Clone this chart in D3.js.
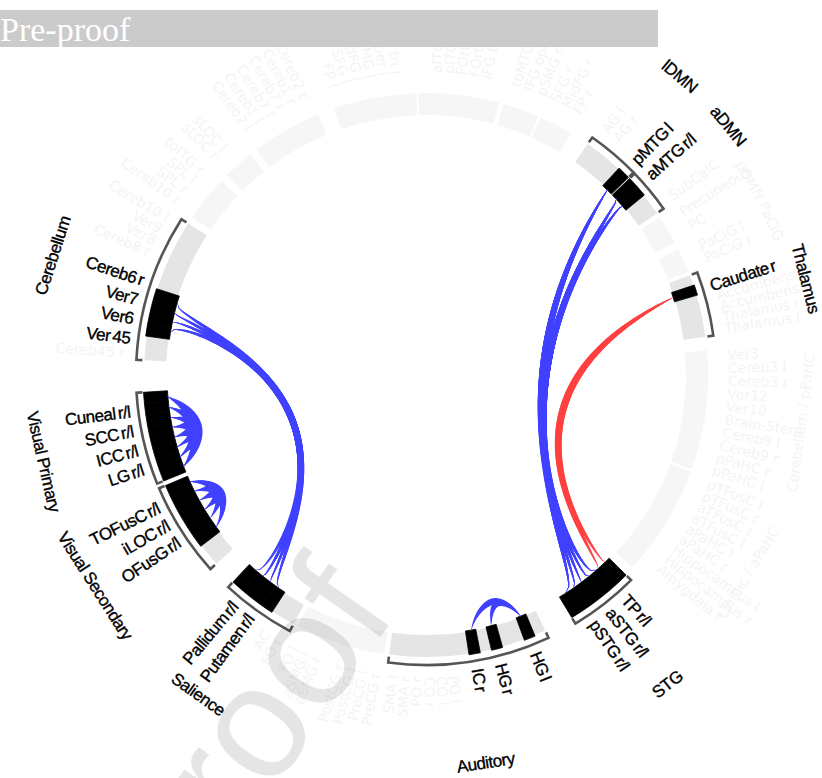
<!DOCTYPE html>
<html>
<head>
<meta charset="utf-8">
<script src="https://cdn.jsdelivr.net/npm/d3@7"></script>
<style>
  body { margin: 0; background: #fff; }
  svg { display: block; }
</style>
</head>
<body>
<svg id="chart" width="822" height="778"></svg>
<script>
// ---- Ring layout: networks clockwise from 12 o'clock (degrees) ----
const networkNames = ["", "", "", "lDMN", "aDMN", "pDMN", "PaCiG", "Thalamus",
  "Cerebellum / pPaHC", "Limbic / aPaHC", "STG", "Auditory", "", "Salience",
  "Visual Secondary", "Visual Primary", "Cerebellum", "", "", "", ""];
const networkStart = [-1.5, 16, 24, 35, 46, 56, 63.5, 69.3, 85, 110, 135, 155, 188.5, 208, 228, 248, 273, 304, 315, 323, 341];
const networkEnd   = [15, 23.5, 31, 45.7, 55, 62, 68.5, 82.2, 109.5, 133, 149, 187.5, 207, 223, 247, 266.5, 302.5, 313.5, 321.5, 337.5, 358];

// ROIs in each network, clockwise ("" = unnamed slot)
const networkNodes = [
  ["", "aITG l", "pITG l", "FOrb l", "FOrb r", "IFG tri r", ""],
  ["toMTG r", "IFG oper r", "pSMG r"],
  ["SFG r", "MidFG r", "FP r"],
  ["AG l", "AG r", "", "pMTG l"],
  ["aMTG r", "aMTG l", "", "SubCalC"],
  ["Precuneous", "PC"],
  ["PaCiG l", "PaCiG r"],
  ["", "Caudate r", "Accumbens l", "Accumbens r", "Thalamus r", "Thalamus l"],
  ["Ver3", "Cereb3 l", "Cereb3 r", "Ver12", "Ver10", "Brain-Stem", "Cereb9 l", "Cereb9 r", "pPaHC r", "pPaHC l"],
  ["pTFusC l", "pTFusC r", "aTFusC r", "aTFusC l", "aPaHC l", "aPaHC r", "Hippocampus l", "Hippocampus r", "Amygdala r", ""],
  ["TP r", "TP l", "aSTG r", "aSTG l", "pSTG r", "pSTG l"],
  ["", "HG l", "", "", "HG r", "", "IC r", "", "PO l", "CO l", "CO r", "PO r", "SMA r", "SMA l"],
  ["PreCG r", "PreCG l", "PostCG l", "PostCG r", "", "aSMG r", "aSMG l", "FO l"],
  ["FO r", "AC", "Putamen r", "Putamen l", "Pallidum r", "Pallidum l"],
  ["", "", "OFusG r", "OFusG l", "iLOC r", "iLOC l", "TOFusC r", "TOFusC l"],
  ["LG r", "LG l", "ICC r", "ICC l", "SCC r", "SCC l", "Cuneal r", "Cuneal l"],
  ["Cereb45 r", "", "Ver 45", "Ver6", "Ver7", "Cereb6 r", "", "", "Cereb8 r", "Ver8", "Ver9", "Cereb10 l"],
  ["Cereb10 r", "SPL r", "SPL l", "toITG r"],
  ["sLOC r", "sLOC l", ""],
  ["Cereb2 l", "Cereb1 l", "Cereb7 l", "Cereb7 r", "Cereb1 r", "Cereb2 r"],
  ["FP l", "SFG l", "MidFG l", "pSMG l", "IFG oper l", "IFG tri l", ""]
];

// ---- Connections (sign: +1 positive / red, -1 negative / blue) ----
const connFrom = [
  "Ver 45", "Ver 45", "Ver6", "Ver6", "Ver7", "Ver7", "Cereb6 r", "Cereb6 r",
  "pMTG l", "pMTG l", "pMTG l", "pMTG l", "pMTG l",
  "aMTG r", "aMTG r", "aMTG r", "aMTG r", "aMTG r",
  "aMTG l", "aMTG l", "aMTG l", "aMTG l", "aMTG l",
  "Caudate r", "Caudate r",
  "Cuneal r", "Cuneal r", "Cuneal l", "SCC r", "SCC l", "ICC r", "ICC l", "LG r", "Cuneal r", "Cuneal l",
  "TOFusC l", "TOFusC l", "TOFusC r", "iLOC r", "iLOC l", "TOFusC l",
  "HG l", "HG l"
];
const connTo = [
  "Putamen r", "Putamen l", "Putamen l", "Pallidum r", "Pallidum r", "Putamen r", "Pallidum l", "Pallidum r",
  "TP l", "aSTG r", "aSTG l", "pSTG r", "pSTG l",
  "TP l", "aSTG r", "aSTG l", "pSTG r", "pSTG l",
  "TP l", "aSTG r", "aSTG l", "pSTG r", "pSTG l",
  "TP r", "TP l",
  "Cuneal l", "SCC l", "SCC r", "ICC l", "ICC r", "LG l", "LG r", "LG l", "LG l", "LG r",
  "TOFusC r", "iLOC r", "iLOC l", "OFusG l", "OFusG r", "OFusG r",
  "IC r", "HG r"
];
const connSign = [
  -1, -1, -1, -1, -1, -1, -1, -1,
  -1, -1, -1, -1, -1,
  -1, -1, -1, -1, -1,
  -1, -1, -1, -1, -1,
  1, 1,
  -1, -1, -1, -1, -1, -1, -1, -1, -1, -1,
  -1, -1, -1, -1, -1, -1,
  -1, -1
];

// ---- Geometry ----
const cx = 426, cy = 375;
const rIn = 260, rOut = 282, rBracket = 290, rTick = 284, rLabel = 298, rGroup = 392;
const deg = d3.scaleLinear().domain([0, 360]).range([0, 2 * Math.PI]);
const polar = (a, r) => { const t = deg(a); return [cx + r * Math.sin(t), cy - r * Math.cos(t)]; };
const norm = a => ((a % 360) + 360) % 360;

const svg = d3.select("#chart");
const ring = svg.append("g").attr("transform", `translate(${cx},${cy})`);

// nodes
const nodes = [], byName = new Map();
networkNodes.forEach((list, i) => {
  const step = (networkEnd[i] - networkStart[i]) / list.length;
  list.forEach((name, j) => {
    const a0 = networkStart[i] + j * step, a1 = a0 + step;
    const n = { name, net: i, slot: j, a0, a1, angle: (a0 + a1) / 2 };
    nodes.push(n);
    if (name) byName.set(name, n);
  });
});
const conns = connFrom.map((f, i) => ({ s: byName.get(f), t: byName.get(connTo[i]), sign: connSign[i] }));
const activeNames = new Set(conns.flatMap(c => [c.s.name, c.t.name]));
const activeNets = new Set(conns.flatMap(c => [c.s.net, c.t.net]));

// ---- faint labels of unused ROIs and networks ----
const labelFont = "'Liberation Sans', Arial, sans-serif";
const ghostColor = "#f4f4f4";
function nodeLabelTransform(a, r) {
  const [x, y] = polar(a, r);
  const right = norm(a) < 180;
  return `translate(${x},${y}) rotate(${right ? a - 90 : a + 90})`;
}
function groupTransform(a, r) {
  const [x, y] = polar(a, r);
  const m = norm(a);
  const rot = (m > 90 && m < 270) ? m - 180 : m;
  return `translate(${x},${y}) rotate(${rot})`;
}
svg.append("g").selectAll("text")
  .data(nodes.filter(n => n.name && !activeNames.has(n.name)))
  .join("text")
  .attr("transform", n => nodeLabelTransform(n.angle, rLabel + 4))
  .attr("text-anchor", n => norm(n.angle) < 180 ? "start" : "end")
  .attr("dy", "0.35em")
  .attr("font-family", "'DejaVu Sans', sans-serif")
  .attr("font-size", 14)
  .attr("fill", ghostColor)
  .text(n => n.name);
svg.append("g").selectAll("text")
  .data(networkNames.map((name, i) => ({ name, i })).filter(d => d.name && !activeNets.has(d.i)))
  .join("text")
  .attr("transform", d => groupTransform((networkStart[d.i] + networkEnd[d.i]) / 2, 378))
  .attr("text-anchor", "middle")
  .attr("dy", "0.35em")
  .attr("font-family", "'DejaVu Sans', sans-serif")
  .attr("font-size", 14)
  .attr("fill", ghostColor)
  .text(d => d.name);

// ---- ring segments ----
const arc = d3.arc();
ring.append("g").selectAll("path")
  .data(networkNames.map((_, i) => i))
  .join("path")
  .attr("d", i => arc({ innerRadius: rIn, outerRadius: rOut, startAngle: deg(networkStart[i]), endAngle: deg(networkEnd[i]) }))
  .attr("fill", i => activeNets.has(i) ? "#e5e5e5" : "#f6f6f6");

// active ROIs
ring.append("g").selectAll("path")
  .data(nodes.filter(n => activeNames.has(n.name)))
  .join("path")
  .attr("d", n => arc({ innerRadius: rIn - 1, outerRadius: rOut + 1, startAngle: deg(n.a0), endAngle: deg(n.a1) }))
  .attr("fill", "#000")
  .attr("stroke", "#000")
  .attr("stroke-width", 0.8);

// brackets around networks in use
function bracket(i) {
  const p = d3.path();
  const a0 = deg(networkStart[i]) - Math.PI / 2, a1 = deg(networkEnd[i]) - Math.PI / 2;
  p.moveTo(rTick * Math.cos(a0), rTick * Math.sin(a0));
  p.lineTo(rBracket * Math.cos(a0), rBracket * Math.sin(a0));
  p.arc(0, 0, rBracket, a0, a1);
  p.lineTo(rTick * Math.cos(a1), rTick * Math.sin(a1));
  return p.toString();
}
ring.append("g").selectAll("path")
  .data([...activeNets])
  .join("path")
  .attr("d", bracket)
  .attr("fill", "none")
  .attr("stroke", "#555")
  .attr("stroke-width", 2.6);

// ---- ROI labels (r/l pairs merged) ----
const roiLabels = [];
[...activeNets].forEach(i => {
  const act = nodes.filter(n => n.net === i && activeNames.has(n.name)).sort((a, b) => a.slot - b.slot);
  const items = [];
  for (let k = 0; k < act.length; k++) {
    const n = act[k], nx = act[k + 1];
    const base = n.name.replace(/ [rl]$/, "");
    if (nx && base !== n.name && nx.name.replace(/ [rl]$/, "") === base && nx.slot === n.slot + 1) {
      items.push({ text: base + " r/l", angle: (n.angle + nx.angle) / 2 });
      k++;
    } else items.push({ text: n.name, angle: n.angle });
  }
  const tight = items.length > 1 && d3.pairs(items).every(([a, b]) => b.angle - a.angle <= 5.2);
  if (tight) {
    const mid = d3.mean(items, d => d.angle), gap = 3.8;
    items.forEach((d, k) => d.angle = mid + (k - (items.length - 1) / 2) * gap);
  }
  roiLabels.push(...items);
});
svg.append("g").selectAll("text")
  .data(roiLabels)
  .join("text")
  .attr("transform", d => nodeLabelTransform(d.angle, rLabel))
  .attr("text-anchor", d => norm(d.angle) < 180 ? "start" : "end")
  .attr("dy", "0.35em")
  .attr("font-family", labelFont)
  .attr("font-size", 17)
  .attr("letter-spacing", "-0.5px")
  .attr("word-spacing", "-2px")
  .attr("fill", "#000")
  .attr("stroke", "#000")
  .attr("stroke-width", 0.35)
  .text(d => d.text);

// network labels
svg.append("g").selectAll("text")
  .data([...activeNets])
  .join("text")
  .attr("transform", i => groupTransform((networkStart[i] + networkEnd[i]) / 2, rGroup))
  .attr("text-anchor", "middle")
  .attr("dy", "0.35em")
  .attr("font-family", labelFont)
  .attr("font-size", 17)
  .attr("letter-spacing", "-0.5px")
  .attr("fill", "#000")
  .attr("stroke", "#000")
  .attr("stroke-width", 0.35)
  .text(i => networkNames[i]);

// ---- bundled, tapered connections ----
const bundles = d3.groups(conns, c => `${c.s.net}|${c.t.net}|${c.sign}`).map(([key, list]) => {
  const within = list[0].s.net === list[0].t.net;
  const hubA = d3.mean(list, c => c.s.angle), hubB = d3.mean(list, c => c.t.angle);
  const hub = d3.mean(list.flatMap(c => [c.s.angle, c.t.angle]));
  return { list, within, hubA, hubB, hub };
});
const quad = (P0, C, P2, t) => [
  (1 - t) * (1 - t) * P0[0] + 2 * (1 - t) * t * C[0] + t * t * P2[0],
  (1 - t) * (1 - t) * P0[1] + 2 * (1 - t) * t * C[1] + t * t * P2[1]
];
const cubic = (P0, C1, C2, P3, t) => {
  const u = 1 - t;
  return [0, 1].map(k => u * u * u * P0[k] + 3 * u * u * t * C1[k] + 3 * u * t * t * C2[k] + t * t * t * P3[k]);
};
const bundleCtrl = 63, N = 100;
function strandCentre(c, b) {
  const P0 = polar(c.s.angle, rIn), P2 = polar(c.t.angle, rIn);
  const pts = [];
  if (b.within) {
    // loop that leaves each ROI radially, deeper for wider spans, drawn toward the hub
    const span = Math.abs(c.t.angle - c.s.angle);
    const depth = 9 + 1.15 * span;
    const C1 = polar(c.s.angle, rIn - 1.33 * depth), C2 = polar(c.t.angle, rIn - 1.33 * depth);
    const Hb = polar(b.hub, rIn - 24);
    for (let i = 0; i <= N; i++) {
      const t = i / N, k = 0.5 * Math.pow(Math.sin(Math.PI * t), 0.8);
      const o = cubic(P0, C1, C2, P2, t);
      pts.push([o[0] + (Hb[0] - o[0]) * k, o[1] + (Hb[1] - o[1]) * k]);
    }
  } else {
    const A = b.hubA, B = b.hubB;
    let bis = (A + B) / 2;
    if (Math.abs(A - B) > 180) bis += 180;
    const C = polar(bis, bundleCtrl);
    const S0 = polar(A, rIn), S2 = polar(B, rIn);
    for (let i = 0; i <= N; i++) {
      const t = i / N, k = 0.97 * Math.pow(Math.sin(Math.PI * t), 0.3);
      const o = quad(P0, C, P2, t), s = quad(S0, C, S2, t);
      pts.push([o[0] + (s[0] - o[0]) * k, o[1] + (s[1] - o[1]) * k]);
    }
  }
  return pts;
}
function strandOutline(pts, wmax, taper) {
  return pts.map((p, i) => {
    const a = pts[Math.max(0, i - 1)], b = pts[Math.min(pts.length - 1, i + 1)];
    const tx = b[0] - a[0], ty = b[1] - a[1];
    const len = Math.hypot(tx, ty) || 1;
    const nx = -ty / len, ny = tx / len;
    const w = wmax * Math.pow(Math.sin(Math.PI * i / (pts.length - 1)), taper) / 2;
    return { x0: p[0] + nx * w, y0: p[1] + ny * w, x1: p[0] - nx * w, y1: p[1] - ny * w };
  });
}
const ribbon = d3.area().x0(d => d.x0).y0(d => d.y0).x1(d => d.x1).y1(d => d.y1);
const strands = bundles.flatMap(b => b.list.map(c => ({ c, b })));
svg.append("g").selectAll("path")
  .data(strands)
  .join("path")
  .attr("d", d => ribbon(d.b.within
    ? strandOutline(strandCentre(d.c, d.b), 6.5, 0.8)
    : strandOutline(strandCentre(d.c, d.b), d.c.sign > 0 ? 7 : 6.5, 0.6)))
  .attr("fill", d => d.c.sign > 0 ? "#ff4040" : "#4040ff");

// ---- watermark and banner ----
svg.append("text")
  .attr("transform", "translate(398,612) rotate(-55)")
  .attr("text-anchor", "end")
  .attr("font-family", labelFont)
  .attr("font-size", 160)
  .attr("fill", "#000")
  .attr("fill-opacity", 0.1)
  .text("proof");

svg.append("rect").attr("x", 0).attr("y", 10).attr("width", 658).attr("height", 37).attr("fill", "#cbcbcc");
svg.append("text")
  .attr("x", 0).attr("y", 41)
  .attr("font-family", "'Liberation Serif', 'Times New Roman', serif")
  .attr("font-size", 34)
  .attr("fill", "#fff")
  .text("Pre-proof");
</script>
</body>
</html>
